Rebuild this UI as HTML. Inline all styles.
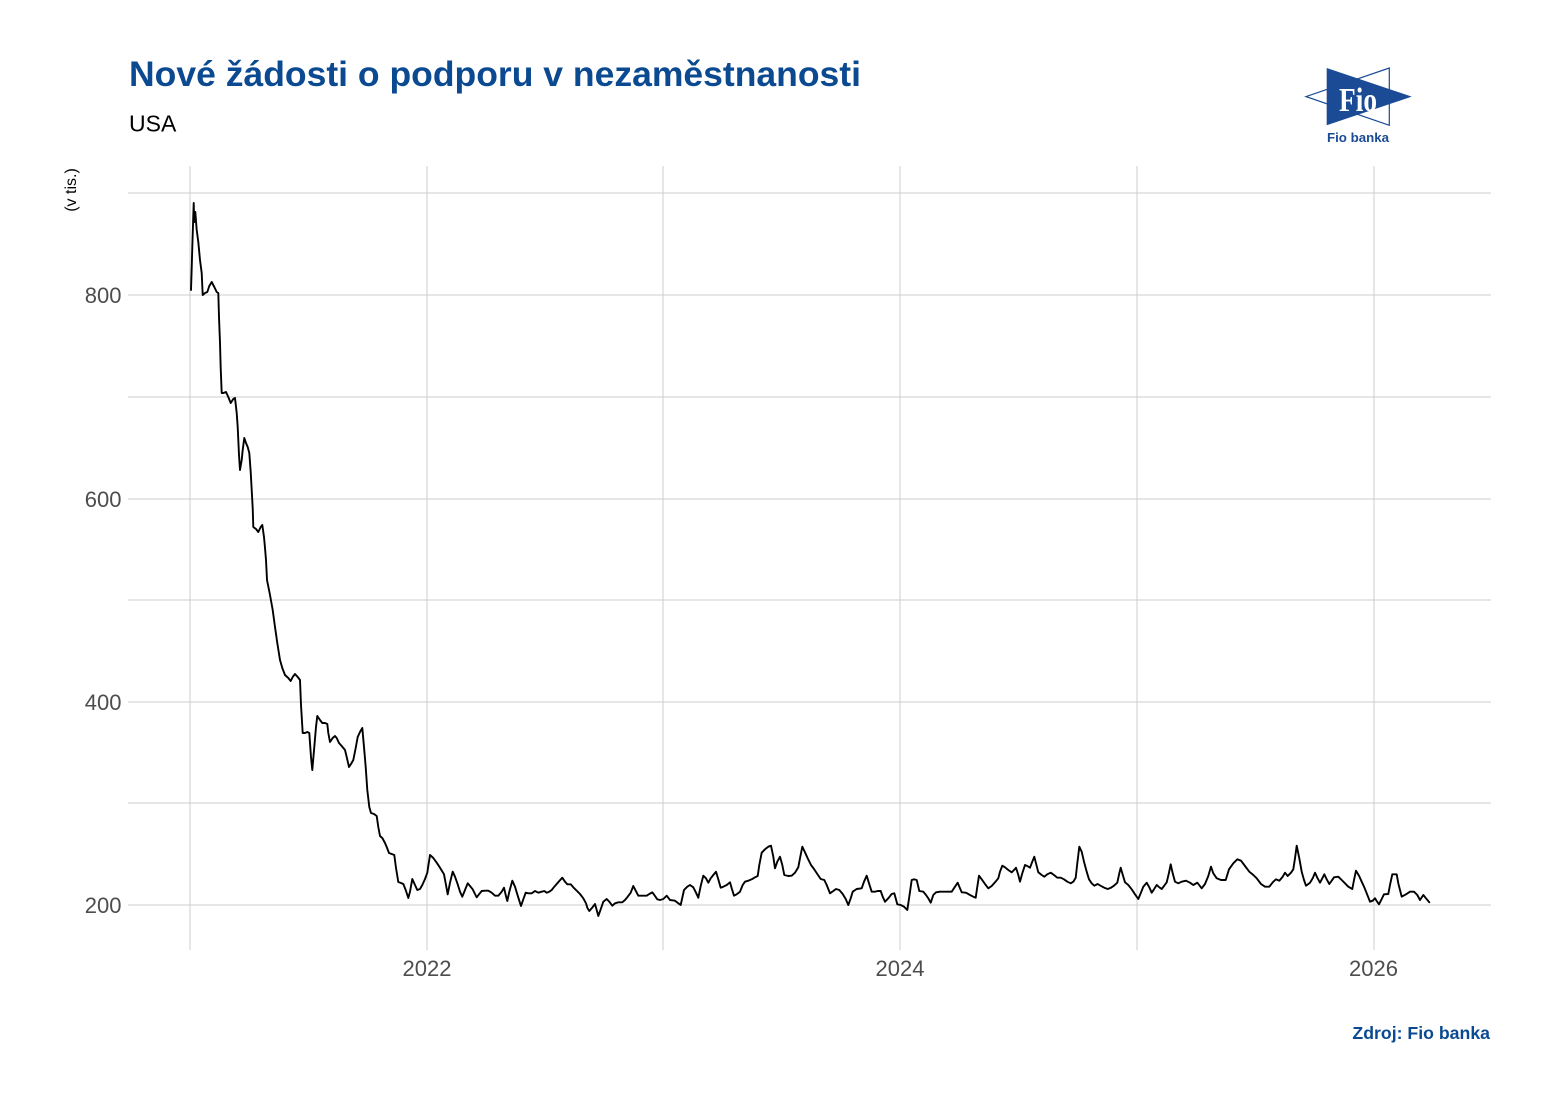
<!DOCTYPE html>
<html>
<head>
<meta charset="utf-8">
<style>
html,body{margin:0;padding:0;background:#ffffff;}
svg{display:block;}
text{font-family:"Liberation Sans",Arial,sans-serif;}
</style>
</head>
<body>
<svg width="1551" height="1102" viewBox="0 0 1551 1102" xmlns="http://www.w3.org/2000/svg">
<rect x="0" y="0" width="1551" height="1102" fill="#ffffff"/>

<!-- Title -->
<text x="129" y="86" font-size="35" font-weight="bold" fill="#0b4a91" textLength="732" lengthAdjust="spacingAndGlyphs">Nové žádosti o podporu v nezaměstnanosti</text>
<text x="129" y="131.5" font-size="23" fill="#000000">USA</text>

<!-- Logo -->
<polygon points="1389.3,68 1389.3,125.3 1306,96.6" fill="#ffffff" stroke="#1a4b94" stroke-width="1.2"/>
<polygon points="1326.7,68 1326.7,125.3 1411.7,96.6" fill="#1a4b94"/>
<text x="1358" y="111" style="font-family:'Liberation Serif',serif;font-weight:bold;" font-size="34" fill="#ffffff" text-anchor="middle" textLength="38" lengthAdjust="spacingAndGlyphs">Fio</text>
<text x="1358" y="142" font-size="13.3" font-weight="bold" fill="#1a4b94" text-anchor="middle">Fio banka</text>

<!-- Y axis title -->
<text transform="translate(76,190) rotate(-90)" font-size="16" fill="#000000" text-anchor="middle">(v tis.)</text>

<!-- Grid -->
<g stroke="#cccccc" stroke-width="1" fill="none">
<line x1="128" y1="193" x2="1491" y2="193"/>
<line x1="128" y1="295" x2="1491" y2="295"/>
<line x1="128" y1="397" x2="1491" y2="397"/>
<line x1="128" y1="499" x2="1491" y2="499"/>
<line x1="128" y1="600" x2="1491" y2="600"/>
<line x1="128" y1="702" x2="1491" y2="702"/>
<line x1="128" y1="803" x2="1491" y2="803"/>
<line x1="128" y1="905" x2="1491" y2="905"/>
<line x1="190" y1="166" x2="190" y2="950"/>
<line x1="427" y1="166" x2="427" y2="950"/>
<line x1="663" y1="166" x2="663" y2="950"/>
<line x1="900" y1="166" x2="900" y2="950"/>
<line x1="1137" y1="166" x2="1137" y2="950"/>
<line x1="1374" y1="166" x2="1374" y2="950"/>
</g>

<!-- Y tick labels -->
<g font-size="22" fill="#4d4d4d" text-anchor="end">
<text x="121.5" y="303">800</text>
<text x="121.5" y="507">600</text>
<text x="121.5" y="710">400</text>
<text x="121.5" y="913">200</text>
</g>

<!-- X tick labels -->
<g font-size="22" fill="#4d4d4d" text-anchor="middle">
<text x="427" y="976">2022</text>
<text x="900" y="976">2024</text>
<text x="1373.5" y="976">2026</text>
</g>

<!-- Data line -->
<polyline fill="none" stroke="#000000" stroke-width="1.9" stroke-linejoin="round" stroke-linecap="round" points="
191,290 191.7,268 192.3,247 193,225 193.7,203 194.3,222 195.3,212 196.7,230 198.3,242 200,260 201.7,273 202.7,295 205,293 207.3,292 209.3,286 211.7,282 214.3,287 216.7,292 218.3,293 219,317 220,343 220.7,368 221.7,393 223.3,393 226,392 228.3,397 230.7,403 233.3,399 235,398 236.7,413 237.7,427 239,455 240,470 241.7,460 242.7,450 244.3,438 246,443 247.7,447 249.3,453 250.7,472 251.7,490 252.7,508 253.3,527 256,529 258.3,532 260.7,527 262.3,525 264,537 265,548 266,560 267,580
270,595 272.7,610 275,627 277.3,643 280,660 282.3,668 285,675 288.3,678 290.7,681 292.7,677 295,674 297.7,677 300,680 301,705 302.7,733 305,733 307.3,732 309.3,733 311,757 312.3,770 314.3,747 316,727 317.3,716 320,720 322.3,723 325,723 327.3,724 328.3,733 330,742 332.7,738 335,736 336.7,738 339,743 341.7,746 345,750 346.7,757 349,767 351,764 353.3,760 355.7,748 357.7,737 360,732 362.3,728 364,747 365.7,767 367.3,790 369.3,807 371,813 374,814 376.7,816 378.3,827 380,836 382.3,838 385,843 386.7,847 389,853 391.7,854 394.3,855 396,868 398.3,882 401,883 403.3,884 405.7,890 408.3,898
410,891.7 412.3,879 415,885 417.3,890 420,889 422.3,885 425,879 427.3,872.7 430,855 433.3,858 436.7,862.7 440,867.7 444,874.3 446,885 447.7,894.3 450,882.7 452.7,871.7 455,876.7 457.7,884.3 460,891.7 462.3,896.7 465,890 467.7,883.3 470,886 472.7,889.3 475,894 476.7,897.3 479,894.3 481.7,891 485,890.7 488.3,890.7 491.7,892.7 495,895.7 498.3,895.7 501.7,891.7 504,887.7 505.7,895 507.3,901 509.3,891.7 512.3,880.7 515,886.7 517.3,894.3 519.3,900.7 521,906 523.3,899.3 525.7,892.7 528.3,893.3 531.7,893.3 535,891 538.3,892.7 541.7,891.7 544.3,891 546.7,892.7 549.3,891.7 551.7,890 554.3,886.7 556.7,884 559.3,881 562.3,877.7 565,881.7 567.3,884.3 570.7,884.3 573.3,887.3 576.7,890.7 580,894 583.3,898.3 586,903.3 587.3,907.7 589.3,911 591.7,908.3 595,904 596.7,910 598.3,916 600.7,909.3 603.3,901.7 606.7,899 609.3,901.7 612.3,905.7 615,903.3 618.3,902.3 622.3,902.3 625,900 627.7,896.7 630.7,892.7 633.3,886 635.7,890.7 638.3,895.7 642.3,895.7 646.7,895.7 649.3,894 652.3,892.3 654.3,895 657.3,899.3
660,900 663.3,899 666.7,895.7 670,900 675,900.7 678.3,903.3 680.7,905 684,890 687.3,886.7 690,885 693.3,887.3 696,892.7 698.3,897.7 700.7,886 703.3,875.7 706,878.3 708.3,882.7 710.7,878.3 713.3,875 716,871.7 718.3,879.3 720.7,887.7 723.3,886.7 726.7,885 730,882.3 731.7,888.3 734,895.7 736.7,894.3 740,891.7 742.7,885 745,881.7 748.3,880.7 751.7,879.3 755,877.3 757.7,876 759.3,865 761.7,852.7 765,849.3 768.3,846.7 771,845.7 773.3,856.7 775,868.3 777.3,861.7 780,856.7 782.3,865 784.3,875 788.3,876 791.7,875.7 795,872.7 798.3,867.3 800,858.3 802.3,846.7 805,852.3 807.7,858.3 811,865 814,869 817.3,874 820.7,879 824.3,880 826.7,885 830,893.3 833.3,891 836,889 839.3,890 842.7,894 845.7,899 848.3,905 850.7,898.3 852.7,891.7 856.7,889 861.7,888.3 864,881.7 866.7,875.7 869,883.3 871.7,891.7 875,891.7 877.7,891 880.7,891 882.7,896.7 885,901.7 888.3,898.3 891.7,894 894.3,893.3 897.3,904.3 900.7,905 904,906.7 907.3,910
909.3,896.7 911.7,880 914,879.3 916.7,880 919.3,891 923.3,891.7 926,895 928.3,898.3 930.7,902.7 933.3,895 936,892.3 940,891.7 945,891.7 951.7,891.7 955,886.7 957.7,882.7 960,888.3 961.7,892.3 966,892.7 970,895 973.3,896.7 975.7,897.7 977.3,886.7 979,875.7 981.7,879.3 985,884 988.3,888.3 991.7,886 995,882.3 998.3,878.3 1000,871.7 1002.3,865.7 1005,867.3 1008.3,870 1011.7,872.3 1014,870 1016,867.7 1018.3,875 1020,881.7 1022.3,873.3 1025,865 1027.3,866 1030,867.7 1032.3,861.7 1034.3,856.7 1036,863.3 1038.3,872.3 1041.7,875 1044.3,876.7 1047.3,874.3 1050.7,872.7 1054,875 1057.3,877.7 1060.7,877.7 1064,879.3 1067.3,881.7 1070.7,883.3 1073.3,881.7 1075.7,877.7 1077.3,863.3 1079.3,846.7 1081.7,851.7 1084,861.7 1086.7,871.7 1089,879.3 1091.7,883.3 1094.3,885.7 1097.7,884 1101,886 1104.3,887.7 1107.7,889 1111,887.7 1114,885.7 1117.3,882.7 1119.3,873.3 1120.7,867.7 1122.3,873.3 1125,882.3 1128.3,885 1131.7,889.3 1135,894.3 1138.3,899 1140.7,893.3 1143.3,886.7 1146.7,882.7 1149.3,887.3 1151.7,892.7 1154,889.3 1156.7,885 1159.3,887.3 1161.7,889 1164,886 1166.7,882.3
1169,872.7 1170.7,864.3 1172.7,873.3 1175,881.7 1178.3,883.3 1181.7,881.7 1186,880.7 1190,882.7 1193.3,885 1197.3,882.7 1201.7,888.3 1205,884 1208.3,876 1211,866.7 1213.3,873.3 1216.7,878.3 1221,880 1225.7,880 1229,869.3 1233.3,863.3 1237.3,859.3 1241,860.7 1245,866 1249.3,871.7 1253.3,875 1256.7,878.3 1261,884 1265,886.7 1269.3,886.7 1273.3,881.7 1276,879.3 1279.3,880.7 1282.7,876.7 1285,872.7 1287.7,876 1291,872.7 1293.3,869.3 1295,858.3 1296.7,845.7 1299.3,858.3 1301.7,871.7 1304,880 1306,885.7 1310,882.7 1312.7,878.3 1315,872.7 1317.3,877.7 1320,882.7 1322.3,878.3 1324.3,874.3 1326.7,879.3 1329.3,884 1331.7,880.7 1334,877.3 1338.3,876.7 1341.7,880 1345,883.3 1348.3,886.7 1352.3,889 1354,880 1356,870.7 1359,875.7 1361.7,881.7 1364.3,887.3 1366.7,893.3 1370,901.7 1372.7,900.7 1375,898.3 1376.7,901 1379,904.3 1381.7,899 1384,894.3 1388.3,894 1390,885 1392.3,874.3 1396.7,874.3 1398.3,883.3 1401.7,896.7 1406,894.3 1410,891.7 1414,891.7 1417.3,895 1420,900 1423.3,895 1426,898.3 1429.3,902.3
"/>

<!-- Source -->
<text x="1490" y="1039" font-size="17.7" font-weight="bold" fill="#0b4a91" text-anchor="end">Zdroj: Fio banka</text>
</svg>
</body>
</html>
